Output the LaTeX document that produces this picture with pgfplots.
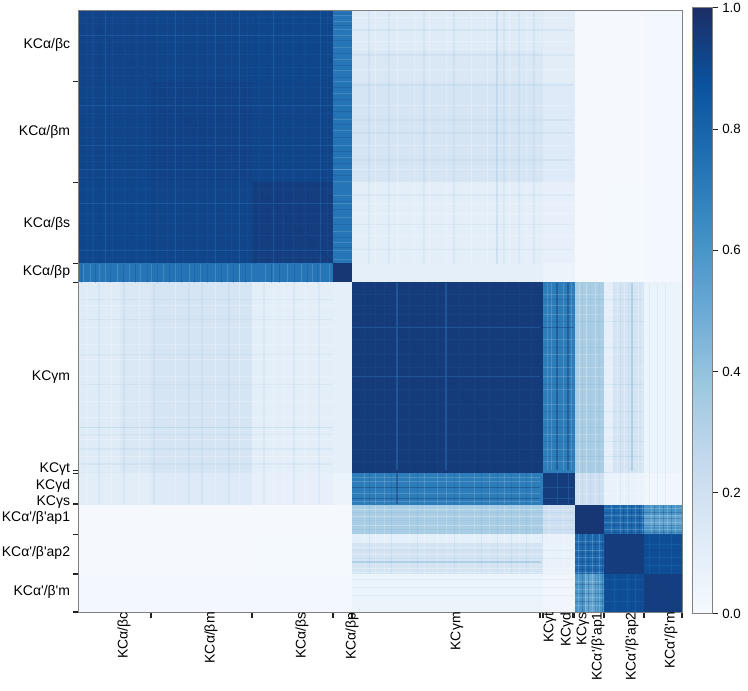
\documentclass[border=0pt]{standalone}
\usepackage{fontspec}
\usepackage{pgfplots}
\pgfplotsset{compat=1.18}
\newfontfamily\tf{Liberation Sans}
\definecolor{axgray}{HTML}{808080}
\definecolor{tickc}{HTML}{222222}
\definecolor{midb}{HTML}{2F7AC2}
\definecolor{navy}{HTML}{12356F}
\definecolor{softb}{HTML}{4292C6}
\pgfplotsset{colormap={refblues}{rgb255=(246,250,254) rgb255=(223,235,247) rgb255=(197,218,238) rgb255=(157,200,224) rgb255=(107,170,213) rgb255=(64,144,197) rgb255=(33,112,180) rgb255=(11,82,158) rgb255=(27,46,102)}}
\newcommand{\stripes}[4]{%
 \addplot[forget plot,draw=none,mark=none,error bars/y dir=both,error bars/y explicit,error bars/error mark=none,error bars/error bar style={#1}]
  table[row sep=\\,header=false,x index=0,y expr={(#2+#3)/2},y error expr={(#3-#2)/2}] {#4};
 \addplot[forget plot,draw=none,mark=none,error bars/x dir=both,error bars/x explicit,error bars/error mark=none,error bars/error bar style={#1}]
  table[row sep=\\,header=false,y index=0,x expr={(#2+#3)/2},x error expr={(#3-#2)/2}] {#4};
}
\begin{document}
\begin{tikzpicture}
\useasboundingbox (-59.25pt,-58.5pt) rectangle (501.75pt,459pt);
\begin{axis}[
 scale only axis,width=452.25pt,height=451.5pt,
 xmin=0,xmax=603,ymin=0,ymax=603,y dir=reverse,
 axis on top,
 colormap name=refblues,point meta min=0,point meta max=1,
 axis line style={draw=axgray,line width=.75pt},
 tick align=outside,major tick length=4.5pt,
 tick style={draw=tickc,line width=.9pt},
 xtick pos=lower,ytick pos=left,
 xticklabel pos=lower,
 xtick={72,173,254,273,461,464,494,495.5,525,565,603},
 ytick={72,173,254,273,461,464,494,495.5,525,565,603},
 xticklabels={},yticklabels={},
 extra x ticks={35,122,213,263,368,461,478,494,509,543,582},
 extra x tick labels={KCα/βc,KCα/βm,KCα/βs,KCα/βp,KCγm,KCγt,KCγd,KCγs,KCα'/β'ap1,KCα'/β'ap2,KCα'/β'm},
 extra x tick style={major tick length=0pt,xticklabel pos=lower,tick label style={rotate=90,anchor=east,inner sep=0pt,yshift=-7.5pt,font=\tf\fontsize{10.5}{12}\selectfont}},
 extra y ticks={35,122,214,262.5,368,460,477,493,509,543.5,583},
 extra y tick labels={KCα/βc,KCα/βm,KCα/βs,KCα/βp,KCγm,KCγt,KCγd,KCγs,KCα'/β'ap1,KCα'/β'ap2,KCα'/β'm},
 extra y tick style={major tick length=0pt,tick label style={anchor=east,inner sep=0pt,xshift=-6.5pt,font=\tf\fontsize{10.5}{12}\selectfont}},
 colorbar,
 colorbar style={
  scale only axis,width=15pt,height=454.5pt,
  at={(1.0177,-0.0033)},anchor=south west,
  ytick={0,0.2,0.4,0.6,0.8,1},
  yticklabel pos=right,ytick pos=right,
  tick align=outside,major tick length=4pt,
  tick style={draw=tickc,line width=.75pt},
  axis line style={draw=axgray,line width=.75pt},
  /pgf/number format/assume math mode=true,
  /pgf/number format/fixed,/pgf/number format/fixed zerofill,/pgf/number format/precision=1,
  yticklabel style={font=\tf\fontsize{10}{12}\selectfont,inner sep=0pt,xshift=3pt},
 },
]
\addplot[surf,shader=flat corner,mesh/cols=12,point meta=explicit,forget plot]
 table[row sep=\\,x=x,y=y,meta=c] {
x y c\\
0 0 .925\\72 0 .92\\173 0 .915\\254 0 .73\\273 0 .15\\461.5 0 .15\\464 0 .11\\494 0 .11\\496 0 .005\\525 0 .008\\565 0 .02\\603 0 .02\\
0 72 .92\\72 72 .93\\173 72 .92\\254 72 .74\\273 72 .17\\461.5 72 .17\\464 72 .13\\494 72 .13\\496 72 .005\\525 72 .008\\565 72 .02\\603 72 .02\\
0 173 .915\\72 173 .92\\173 173 .945\\254 173 .73\\273 173 .10\\461.5 173 .10\\464 173 .08\\494 173 .08\\496 173 .005\\525 173 .01\\565 173 .02\\603 173 .02\\
0 254 .73\\72 254 .74\\173 254 .73\\254 254 .97\\273 254 .09\\461.5 254 .09\\464 254 .06\\494 254 .06\\496 254 .005\\525 254 .01\\565 254 .02\\603 254 .02\\
0 273 .15\\72 273 .17\\173 273 .10\\254 273 .09\\273 273 .955\\461.5 273 .955\\464 273 .70\\494 273 .70\\496 273 .34\\525 273 .18\\565 273 .06\\603 273 .06\\
0 461.5 .15\\72 461.5 .17\\173 461.5 .10\\254 461.5 .09\\273 461.5 .955\\461.5 461.5 .955\\464 461.5 .70\\494 461.5 .70\\496 461.5 .34\\525 461.5 .18\\565 461.5 .06\\603 461.5 .06\\
0 464 .11\\72 464 .13\\173 464 .08\\254 464 .06\\273 464 .70\\461.5 464 .70\\464 464 .95\\494 464 .95\\496 464 .21\\525 464 .07\\565 464 .03\\603 464 .03\\
0 494 .11\\72 494 .13\\173 494 .08\\254 494 .06\\273 494 .70\\461.5 494 .70\\464 494 .95\\494 494 .95\\496 494 .21\\525 494 .07\\565 494 .03\\603 494 .03\\
0 496 .005\\72 496 .005\\173 496 .005\\254 496 .005\\273 496 .34\\461.5 496 .34\\464 496 .21\\494 496 .21\\496 496 .97\\525 496 .78\\565 496 .60\\603 496 .60\\
0 525 .008\\72 525 .008\\173 525 .01\\254 525 .01\\273 525 .18\\461.5 525 .18\\464 525 .07\\494 525 .07\\496 525 .78\\525 525 .95\\565 525 .89\\603 525 .89\\
0 565 .02\\72 565 .02\\173 565 .02\\254 565 .02\\273 565 .06\\461.5 565 .06\\464 565 .03\\494 565 .03\\496 565 .60\\525 565 .89\\565 565 .945\\603 565 .945\\
0 603 .02\\72 603 .02\\173 603 .02\\254 603 .02\\273 603 .06\\461.5 603 .06\\464 603 .03\\494 603 .03\\496 603 .60\\525 603 .89\\565 603 .945\\603 603 .945\\
};
% sub-blocks
\addplot[patch,patch type=rectangle,shader=flat,point meta=explicit,forget plot]
 table[row sep=\\,x=x,y=y,meta=c] {
x y c\\
273 525 .09\\462 525 .09\\462 533 .09\\273 533 .09\\
525 273 .09\\533 273 .09\\533 462 .09\\525 462 .09\\
0 273 .125\\40 273 .125\\40 462 .125\\0 462 .125\\
273 0 .125\\462 0 .125\\462 40 .125\\273 40 .125\\
565 506 .53\\603 506 .53\\603 517 .53\\565 517 .53\\
506 565 .53\\517 565 .53\\517 603 .53\\506 603 .53\\
};
% alpha/beta block
\stripes{midb,opacity=.12,line width=.75pt}{0}{254}{8\\14\\33\\45\\58\\66\\78\\88\\104\\118\\128\\146\\152\\168\\180\\204\\214\\226\\248\\}
\stripes{midb,opacity=.35,line width=.75pt}{0}{254}{26\\96\\136\\160\\194\\241\\}
\stripes{navy,opacity=.12,line width=.75pt}{0}{254}{20\\52\\74\\110\\124\\142\\176\\188\\220\\234\\}
% alpha/beta p against the others
\stripes{white,opacity=.14,line width=.75pt}{254}{273}{5\\12\\20\\26\\38\\50\\61\\72\\84\\96\\110\\121\\136\\148\\160\\160\\172\\186\\194\\208\\222\\233\\241\\250\\}
\stripes{navy,opacity=.2,line width=.75pt}{254}{273}{3\\16\\31\\44\\56\\68\\78\\90\\102\\115\\128\\142\\154\\166\\192\\200\\215\\228\\238\\}
% alpha/beta against gamma
\stripes{white,opacity=.25,line width=.75pt}{0}{254}{296\\318\\335\\350\\367\\392\\408\\430\\447\\}
\stripes{softb,opacity=.07,line width=1.2pt}{0}{254}{290\\310\\345\\375\\418\\418\\425\\440\\455\\}
\stripes{white,opacity=.25,line width=.75pt}{273}{495}{8\\32\\60\\96\\136\\160\\194\\204\\226\\}
\stripes{softb,opacity=.07,line width=1.2pt}{273}{495}{20\\45\\75\\110\\123\\150\\185\\215\\240\\}
% gamma block
\stripes{midb,opacity=.4,line width=.9pt}{273}{461}{318\\367\\}
\stripes{midb,opacity=.1,line width=.75pt}{273}{461}{285\\296\\305\\330\\345\\358\\380\\395\\410\\425\\440\\452\\}
% gamma m against gamma d
\stripes{navy,opacity=.4,line width=.9pt}{273}{461}{478\\489\\}
\stripes{white,opacity=.15,line width=.75pt}{273}{461}{468\\472\\484\\492\\}
\stripes{navy,opacity=.4,line width=.9pt}{464}{495}{318\\}
\stripes{white,opacity=.15,line width=.75pt}{464}{495}{285\\296\\305\\330\\345\\358\\367\\380\\395\\410\\425\\440\\452\\}
\stripes{navy,opacity=.15,line width=.75pt}{464}{495}{290\\312\\338\\375\\402\\418\\432\\447\\}
\stripes{midb,opacity=.35,line width=.75pt}{464}{495}{478\\489\\}
% gamma against a'/b'
\stripes{white,opacity=.2,line width=.75pt}{496}{565}{285\\296\\305\\330\\345\\358\\367\\380\\395\\410\\425\\440\\452\\470\\484\\}
\stripes{softb,opacity=.1,line width=.75pt}{496}{565}{290\\312\\338\\375\\402\\418\\432\\447\\}
\stripes{softb,opacity=.25,line width=1.5pt}{273}{462}{553\\}
\stripes{white,opacity=.25,line width=.75pt}{273}{495}{500\\507\\516\\538\\545\\559\\563\\}
\stripes{softb,opacity=.08,line width=.75pt}{273}{495}{503\\511\\520\\541\\549\\570\\578\\586\\}
% a'/b' block
\stripes{white,opacity=.18,line width=.75pt}{496}{525}{532\\541\\548\\556\\563\\572\\580\\588\\596\\}
\stripes{navy,opacity=.25,line width=.75pt}{496}{525}{535\\544\\552\\560\\575\\584\\592\\}
\stripes{white,opacity=.18,line width=.75pt}{525}{603}{499\\506\\513\\520\\}
\stripes{navy,opacity=.25,line width=.75pt}{525}{603}{503\\509\\516\\523\\}
\stripes{midb,opacity=.25,line width=.75pt}{525}{565}{570\\580\\592\\}
\stripes{midb,opacity=.25,line width=.75pt}{565}{603}{535\\548\\556\\}
\stripes{navy,opacity=.2,line width=.75pt}{565}{603}{530\\541\\552\\561\\}
% diagonals
\addplot[forget plot,navy,opacity=.2,line width=.75pt] coordinates {(0,0)(254,254)};
\addplot[forget plot,navy,opacity=.2,line width=.75pt] coordinates {(273,273)(461,461)};
\addplot[forget plot,navy,opacity=.2,line width=.75pt] coordinates {(525,525)(603,603)};
\end{axis}
\end{tikzpicture}
\end{document}
